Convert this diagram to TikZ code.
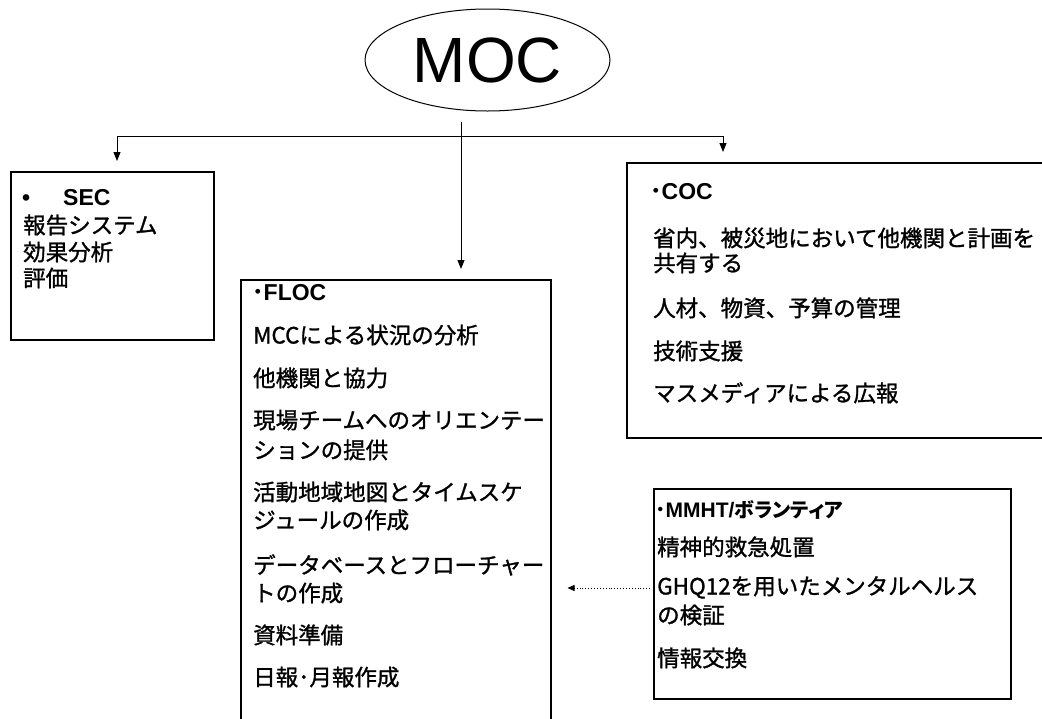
\documentclass[tikz,border=0pt]{standalone}
\usepackage{fontspec}
\setmainfont{Liberation Sans}
\newfontfamily\jp{Noto Sans CJK JP}[FakeBold=1.2]
\newfontfamily\jpp{Noto Sans CJK JP}[RawFeature=+palt]
\newfontfamily\jpdot{Noto Sans CJK JP}
\usetikzlibrary{arrows.meta,shapes.geometric}
\begin{document}
\begin{tikzpicture}[x=1pt,y=-1pt,
  box/.style={draw, line width=1.5pt, inner sep=0pt, anchor=north west},
  body/.style={anchor=base west, inner sep=0pt, font=\jp\fontsize{22.5}{27}\selectfont},
  head/.style={anchor=base west, inner sep=0pt, font=\fontsize{23}{27}\selectfont\bfseries},
  arr/.style={line width=1pt, -{Triangle[length=9pt,width=7pt]}, shorten >=10pt},
  link/.style={line width=1pt},
  dotarr/.style={line width=0.9pt, dotted, -{Triangle[length=7pt,width=6pt]}, shorten >=16pt}]
\clip (0,0) rectangle (1042,718);
\fill[white] (0,0) rectangle (1042,718);

% MOC
\node[draw, ellipse, line width=1pt, minimum width=245pt, minimum height=102pt, inner sep=0pt,
      font=\fontsize{64}{64}\selectfont] (moc) at (487.5,60) {MOC};

% boxes
\node[box, minimum width=203pt, minimum height=168pt] (sec)  at (10,171) {};
\node[box, minimum width=310pt, minimum height=470pt] (floc) at (240,279) {};
\node[box, minimum width=430pt, minimum height=275pt] (coc)  at (626,162) {};
\node[box, minimum width=357pt, minimum height=210pt] (mmht) at (653,488) {};

% connectors
\coordinate (hl) at (117,136);
\coordinate (hr) at (723,136);
\coordinate (tr) at (461,136);
\draw[link] (hl) -- (hr);
\draw[arr, shorten <=10pt] (moc.south -| tr) -- (tr |- floc.north);
\draw[arr] (hl) -- (hl |- sec.north);
\draw[arr] (hr) -- (hr |- coc.north);

% SEC
\node[head] (sech) at (22,205) {•\hspace{33pt}SEC};
\node[body] (sec1) at (23,233.5) {報告システム};
\node[body] (sec2) at (23,260.5) {効果分析};
\node[body] (sec3) at (23,286.5) {評価};

% FLOC
\node[head] (floch) at (252,300) {{\jpdot\bfseries ･}FLOC};
\node[body] (f1)  at (253,343.5) {MCCによる状況の分析};
\node[body] (f2)  at (253,386.5) {他機関と協力};
\node[body] (f3a) at (253,428.5) {現場チームへのオリエンテー};
\node[body] (f3b) at (253,458.5) {ションの提供};
\node[body] (f4a) at (253,500.5) {活動地域地図とタイムスケ};
\node[body] (f4b) at (253,528.5) {ジュールの作成};
\node[body] (f5a) at (253,573.5) {データベースとフローチャー};
\node[body] (f5b) at (253,601.5) {トの作成};
\node[body] (f6)  at (253,643.5) {資料準備};
\node[body] (f7)  at (253,685.5) {日報･月報作成};

% COC
\node[head] (coch) at (650,199) {{\jpdot\bfseries ･}COC};
\node[body] (c1a) at (653,246.5) {省内、被災地において他機関と計画を};
\node[body] (c1b) at (653,271.5) {共有する};
\node[body] (c2)  at (653,316.5) {人材、物資、予算の管理};
\node[body] (c3)  at (653,359.5) {技術支援};
\node[body] (c4)  at (653,401.5) {マスメディアによる広報};

% MMHT
\node[head] (mh) at (655,517) {\fontsize{21}{27}\selectfont{\jpdot\bfseries ･}MMHT/{\jpp\fontsize{20}{27}\selectfont ボランティア}};
\node[body] (m1)  at (657,555.5) {精神的救急処置};
\node[body] (m2a) at (657,594.5) {GHQ12を用いたメンタルヘルス};
\node[body] (m2b) at (657,623.5) {の検証};
\node[body] (m3)  at (657,666.5) {情報交換};

\coordinate (dy) at (0,588);
\draw[dotarr, shorten <=3pt] (mmht.west |- dy) -- (floc.east |- dy);
\end{tikzpicture}
\end{document}
